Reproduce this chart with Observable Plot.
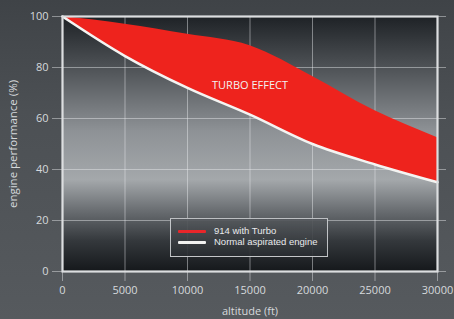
<!DOCTYPE html>
<html>
<head>
<meta charset="utf-8">
<script src="https://cdn.jsdelivr.net/npm/d3@7"></script>
<script src="https://cdn.jsdelivr.net/npm/@observablehq/plot@0.6"></script>
<style>
  html, body { margin: 0; padding: 0; background: #4c5054; }
  #wrap { position: relative; width: 454px; height: 319px; overflow: hidden;
    background: linear-gradient(180deg, #3f4347 0%, #4c5054 35%, #565a5e 100%);
    font-family: "Open Sans", sans-serif; }
  #wrap svg { position: absolute; left: 0; top: 0; }
  #legend { position: absolute; left: 170px; top: 218px; width: 158px; height: 39px;
    border: 1.5px solid rgba(225,228,230,0.8); box-sizing: border-box;
    background: linear-gradient(180deg, rgba(84,88,92,0.92) 0%, rgba(40,44,48,0.92) 100%);
    font-family: "Liberation Sans", Arial, sans-serif;
    font-size: 9.5px; color: #e8eaec; line-height: 10px; }
  .row { position: absolute; left: 7px; display: flex; align-items: center; white-space: nowrap; height: 10px; }
  .row span { display: block; height: 10px; line-height: 10px; }
  .sw { width: 28px; height: 3px; margin-right: 8px; border-radius: 1px; }
</style>
</head>
<body>
<div id="wrap"></div>
<script>
// Data
const altitude = [0, 5000, 10000, 15000, 20000, 25000, 30000];
const turbo = [100, 97, 93, 88.5, 76.5, 63, 52.5];
const normal = [100, 84.5, 72, 61.5, 50, 42, 35];
const xTicks = [0, 5000, 10000, 15000, 20000, 25000, 30000];
const yTicks = [0, 20, 40, 60, 80, 100];
const seriesNames = ["914 with Turbo", "Normal aspirated engine"];
const annotation = [{x: 15000, y: 73, label: "TURBO EFFECT"}];

const rows = altitude.map((a, i) => ({altitude: a, turbo: turbo[i], normal: normal[i]}));

const gridColor = "rgba(235,238,240,0.45)";
const textColor = "#d6d9dc";

const chart = Plot.plot({
  width: 454,
  height: 319,
  marginLeft: 62,
  marginRight: 17,
  marginTop: 16,
  marginBottom: 48,
  style: {background: "transparent", fontFamily: "Open Sans, sans-serif", fontSize: "11px", color: textColor},
  x: {domain: [0, 30000]},
  y: {domain: [0, 100]},
  marks: [
    Plot.frame({fill: "url(#plotbg)", stroke: null}),
    Plot.gridX(xTicks, {stroke: gridColor, strokeOpacity: 1, strokeWidth: 1}),
    Plot.gridY(yTicks, {stroke: gridColor, strokeOpacity: 1, strokeWidth: 1}),
    Plot.axisY(yTicks, {anchor: "left", tickSize: 10, tickPadding: 4, stroke: gridColor, fill: textColor, fontSize: 11, label: null}),
    Plot.axisY(yTicks, {anchor: "right", tickSize: 8, tickFormat: () => "", stroke: gridColor, label: null}),
    Plot.axisX(xTicks, {anchor: "bottom", tickSize: 10, tickPadding: 5, stroke: gridColor, fill: textColor, fontSize: 11, label: null, tickFormat: d => String(d)}),
    Plot.areaY(rows, {x: "altitude", y1: "normal", y2: "turbo", fill: "#ee231d", curve: "monotone-x"}),
    Plot.line(rows, {x: "altitude", y: "normal", stroke: "#f4f4f2", strokeWidth: 2.6, curve: "monotone-x"}),
    Plot.frame({stroke: "#dcdee0", strokeWidth: 2.2}),
    Plot.text(annotation, {x: "x", y: "y", text: "label", fill: "#f2f2f2", fontSize: 11}),
    Plot.text(["altitude (ft)"], {frameAnchor: "bottom", dy: 43, fill: textColor, fontSize: 11}),
    Plot.text(["engine performance (%)"], {frameAnchor: "left", textAnchor: "middle", dx: -49, rotate: -90, fill: textColor, fontSize: 11.5})
  ]
});

// gradient definition for the plot background
const svg = d3.select(chart);
const grad = svg.insert("defs", ":first-child").append("linearGradient")
  .attr("id", "plotbg").attr("x1", 0).attr("y1", 0).attr("x2", 0).attr("y2", 1);
[[0, "#1e2226"], [0.22, "#53575b"], [0.45, "#8e9296"], [0.64, "#a4a8ab"], [0.76, "#6a6e72"], [0.88, "#34383c"], [1, "#15181b"]]
  .forEach(([o, c]) => grad.append("stop").attr("offset", o).attr("stop-color", c));

const wrap = document.getElementById("wrap");
wrap.appendChild(chart);

const legend = document.createElement("div");
legend.id = "legend";
const colors = ["#e8262a", "#f2f2f0"];
seriesNames.forEach((name, i) => {
  const row = document.createElement("div");
  row.className = "row";
  row.style.top = (7 + i * 11) + "px";
  const sw = document.createElement("div");
  sw.className = "sw";
  sw.style.background = colors[i];
  const t = document.createElement("span");
  t.textContent = name;
  row.appendChild(sw);
  row.appendChild(t);
  legend.appendChild(row);
});
wrap.appendChild(legend);
</script>
</body>
</html>
